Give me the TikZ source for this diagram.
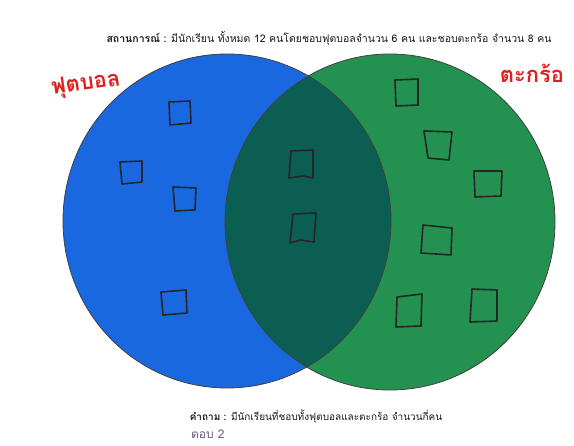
\documentclass[tikz,border=0pt]{standalone}
\usepackage{fontspec}
\newfontfamily\thai[Script=Thai]{Loma}
\definecolor{vblue}{HTML}{1A68E0}
\definecolor{vgreen}{HTML}{239150}
\definecolor{vdark}{HTML}{0B5F52}
\definecolor{lblred}{HTML}{E0201E}
\definecolor{anscol}{HTML}{6A5C82}
\begin{document}
\begin{tikzpicture}[x=1pt,y=-1pt,
  sq/.style={draw=black!85, line width=1.6pt, line join=round},
  rim/.style={draw=black!75, line width=0.8pt},
  txt/.style={font=\thai\fontsize{10.5}{12}\selectfont, text=black!90, inner sep=0pt},
  lbl/.style={font=\thai\bfseries\fontsize{22}{26}\selectfont, text=lblred, inner sep=0pt}]
\useasboundingbox (0,0) rectangle (574,446);
\fill[white] (0,0) rectangle (574,446);
% circles
\coordinate (cb) at (227,221);
\coordinate (cg) at (390,222);
\fill[vblue] (cb) ellipse [x radius=164pt, y radius=167pt];
\fill[vgreen] (cg) ellipse [x radius=165pt, y radius=168pt];
\begin{scope}
  \clip (cb) ellipse [x radius=164pt, y radius=167pt];
  \fill[vdark] (cg) ellipse [x radius=165pt, y radius=168pt];
\end{scope}
\draw[rim] (cb) ellipse [x radius=164pt, y radius=167pt];
\draw[rim] (cg) ellipse [x radius=165pt, y radius=168pt];
% hand-drawn squares: football only
\draw[sq] (169,102) -- (190,101) -- (191,123) -- (170,125) -- cycle;
\draw[sq] (120,162) -- (142,161) -- (142,182) -- (122,184) -- cycle;
\draw[sq] (173,187) -- (196,188) -- (195,210) -- (175,211) -- cycle;
\draw[sq] (161,292) -- (186,290) -- (187,313) -- (163,315) -- cycle;
% both
\draw[sq] (291,151) -- (313,150) -- (313,178) -- (303,176) -- (289,178) -- cycle;
\draw[sq] (293,214) -- (316,213) -- (314,242) -- (300,240) -- (290,243) -- cycle;
% takraw only
\draw[sq] (395,80) -- (418,79) -- (418,105) -- (396,106) -- cycle;
\draw[sq] (424,131) -- (452,132) -- (449,160) -- (428,158) -- cycle;
\draw[sq] (474,171) -- (502,171) -- (501,196) -- (475,197) -- cycle;
\draw[sq] (423,225) -- (452,228) -- (451,255) -- (421,253) -- cycle;
\draw[sq] (397,297) -- (422,294) -- (421,326) -- (396,327) -- cycle;
\draw[sq] (472,289) -- (497,290) -- (497,321) -- (470,322) -- cycle;
% texts
\node[txt] (title) at (329,38) {\textbf{สถานการณ์ :} มีนักเรียน ทั้งหมด 12 คนโดยชอบฟุตบอลจำนวน 6 คน และชอบตะกร้อ จำนวน 8 คน};
\node[lbl, rotate=8] (fb) at (86,85) {ฟุตบอล};
\node[lbl] (tk) at (532,73) {ตะกร้อ};
\node[txt, font=\thai\fontsize{10}{12}\selectfont] (q) at (316,417) {\textbf{คำถาม :} มีนักเรียนที่ชอบทั้งฟุตบอลและตะกร้อ จำนวนกี่คน};
\node[txt, anchor=west, text=anscol, font=\thai\fontsize{12}{14}\selectfont] (ans) at (191,434) {ตอบ 2};
\end{tikzpicture}
\end{document}
